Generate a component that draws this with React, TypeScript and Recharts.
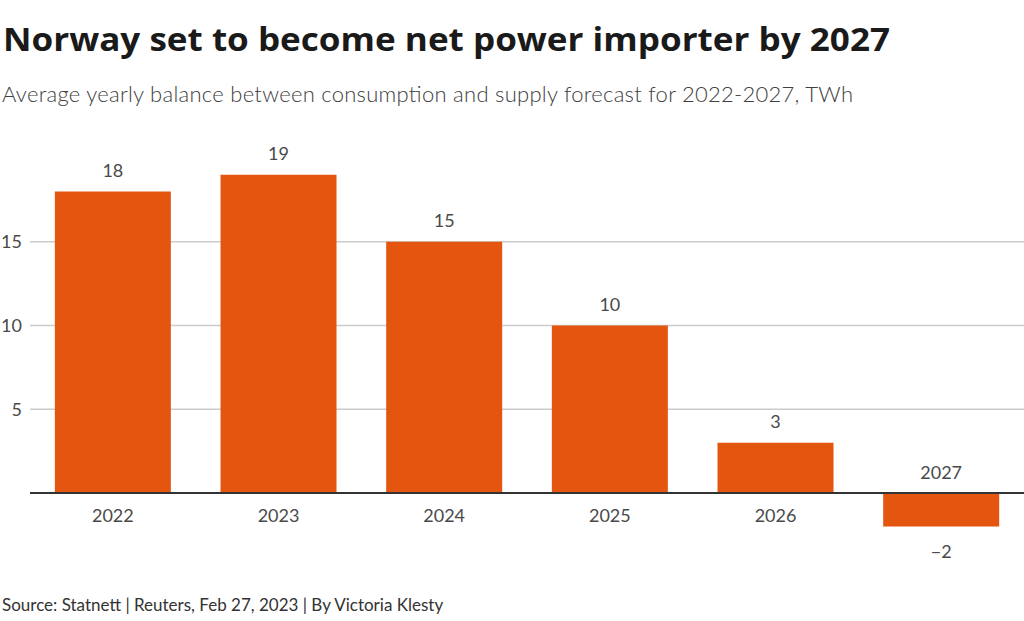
import React from 'react';
import { BarChart, Bar, XAxis, YAxis, CartesianGrid, ReferenceLine, LabelList } from 'recharts';

const years = ['2022', '2023', '2024', '2025', '2026', '2027'];
const balance = [18, 19, 15, 10, 3, -2];
const yTicks = [0, 5, 10, 15];
const gridValues = [5, 10, 15];

const data = years.map((y, i) => ({ year: y, value: balance[i] }));

const FONT = "Lato, 'Noto Sans', sans-serif";
const TITLE_FONT = "'Open Sans', Lato, sans-serif";
const BAR = '#e4560f';

const box = (props: any) => {
  const vb = props.viewBox && props.viewBox.width !== undefined ? props.viewBox : props;
  const x = Number(vb.x), y = Number(vb.y), w = Number(vb.width), h = Number(vb.height);
  return { x, w, top: Math.min(y, y + h), bottom: Math.max(y, y + h) };
};

const ValueLabel = (props: any) => {
  const { x, w, top, bottom } = box(props);
  const v = Number(props.value);
  const neg = v < 0;
  const ty = neg ? bottom + 24 : top - 22;
  return (
    <text x={x + w / 2} y={ty} textAnchor="middle" dominantBaseline="central"
      fontFamily={FONT} fontSize={18} fill="#4a4a4a">
      {neg ? '\u2212' + Math.abs(v) : String(v)}
    </text>
  );
};

const CatLabel = (props: any) => {
  const { x, w, top, bottom } = box(props);
  const v = balance[props.index];
  const ty = v < 0 ? top - 21 : bottom + 22;
  return (
    <text x={x + w / 2} y={ty} textAnchor="middle" dominantBaseline="central"
      fontFamily={FONT} fontSize={18} fill="#4a4a4a">
      {props.value}
    </text>
  );
};

export default function App() {
  return (
    <div style={{ position: 'absolute', left: 0, top: 0, width: 1024, height: 621, background: '#fff' }}>
      <svg width={1024} height={621} style={{ position: 'absolute', left: 0, top: 0 }}>
        <text x={3} y={51} fontFamily={TITLE_FONT} fontWeight={700} fontSize={32} fill="#1a1a1a"
          textLength={887} lengthAdjust="spacingAndGlyphs">
          Norway set to become net power importer by 2027
        </text>
        <text x={2} y={102} fontFamily={FONT} fontWeight={300} fontSize={22} fill="#404040"
          textLength={851} lengthAdjust="spacing">
          Average yearly balance between consumption and supply forecast for 2022-2027, TWh
        </text>
        <text x={2} y={611} fontFamily={FONT} fontSize={17} fill="#333">
          Source: Statnett | Reuters, Feb 27, 2023 | By Victoria Klesty
        </text>
      </svg>
      <div style={{ position: 'absolute', left: 0, top: 0 }}>
        <BarChart width={1024} height={621} data={data}
          margin={{ top: 158, right: 0, bottom: 61, left: 0 }} barCategoryGap="15%">
          <CartesianGrid vertical={false} stroke="#cccccc" strokeWidth={1.3}
            horizontalValues={gridValues} />
          <XAxis dataKey="year" hide />
          <YAxis domain={[-4, 20]} ticks={yTicks} width={30} tickLine={false} axisLine={false}
            tickFormatter={(v: number) => (v === 0 ? '' : String(v))}
            tick={{ fontFamily: FONT, fontSize: 18, fill: '#4a4a4a' }} />
          <Bar dataKey="value" fill={BAR} isAnimationActive={false}>
            <LabelList dataKey="value" content={ValueLabel} />
            <LabelList dataKey="year" content={CatLabel} />
          </Bar>
          <ReferenceLine y={0} stroke="#333" strokeWidth={2} />
        </BarChart>
      </div>
    </div>
  );
}
